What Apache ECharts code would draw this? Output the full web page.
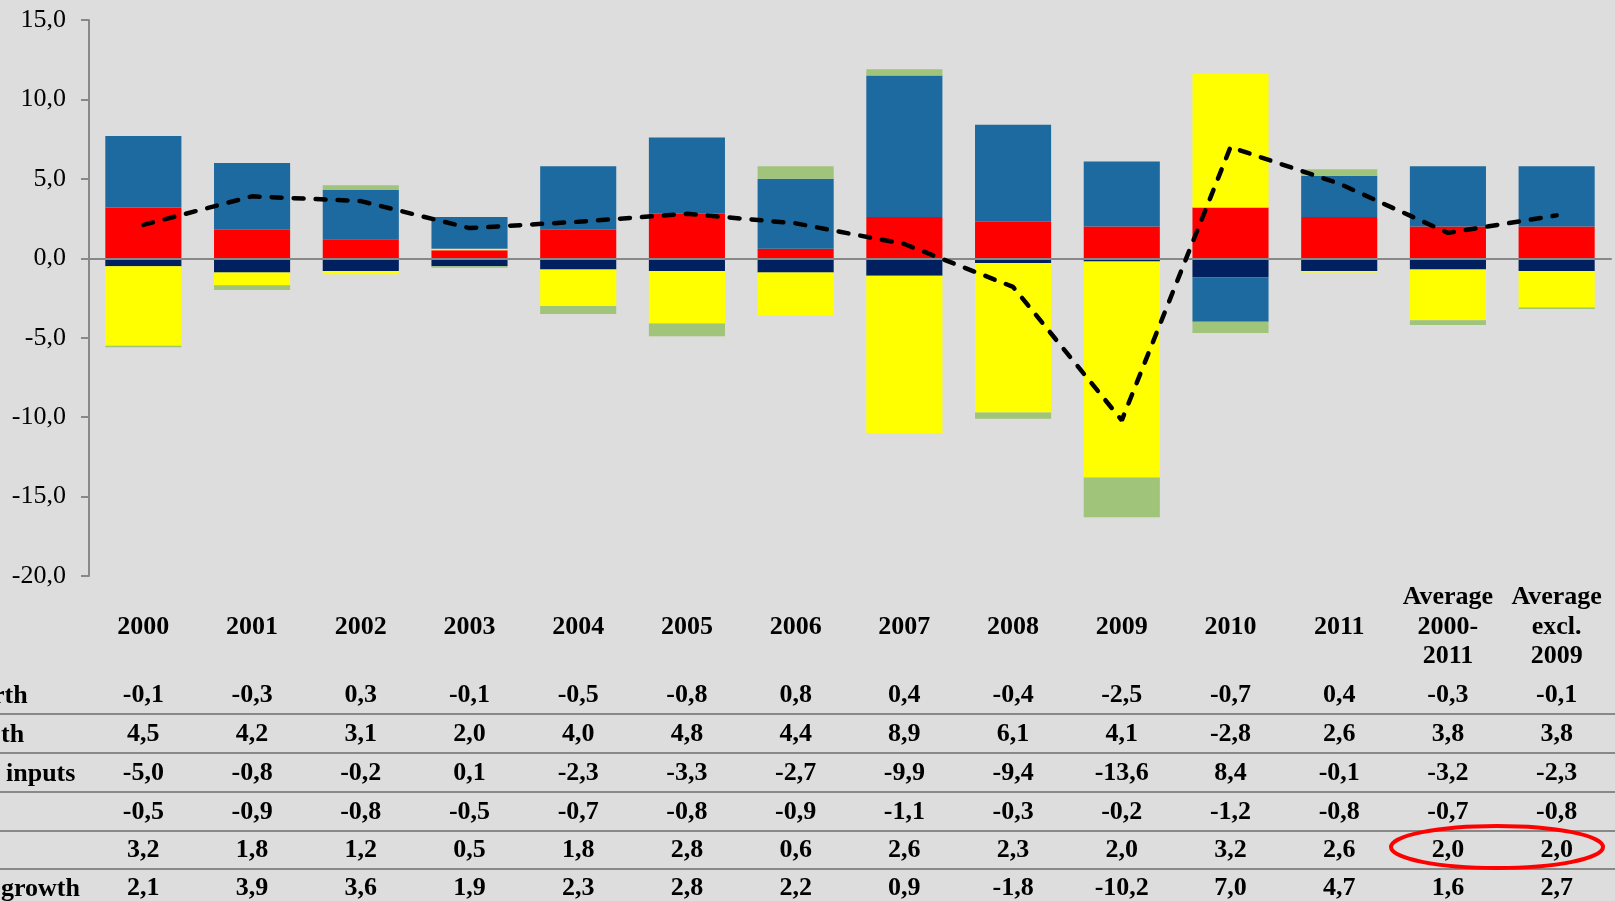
<!DOCTYPE html>
<html>
<head>
<meta charset="utf-8">
<script src="https://cdn.jsdelivr.net/npm/echarts@6/dist/echarts.min.js"></script>
<style>
  html, body { margin: 0; padding: 0; background: #DDDDDD; }
  #main { width: 1615px; height: 901px; }
</style>
</head>
<body>
<div id="main"></div>
<script>
// categories (x)
var categories = ['2000', '2001', '2002', '2003', '2004', '2005', '2006', '2007', '2008', '2009', '2010', '2011',
    'Average\n2000-\n2011', 'Average\nexcl.\n2009'];

// table rows, top to bottom
var greenRow  = [-0.1, -0.3, 0.3, -0.1, -0.5, -0.8, 0.8, 0.4, -0.4, -2.5, -0.7, 0.4, -0.3, -0.1];
var blueRow   = [4.5, 4.2, 3.1, 2.0, 4.0, 4.8, 4.4, 8.9, 6.1, 4.1, -2.8, 2.6, 3.8, 3.8];
var yellowRow = [-5.0, -0.8, -0.2, 0.1, -2.3, -3.3, -2.7, -9.9, -9.4, -13.6, 8.4, -0.1, -3.2, -2.3];
var navyRow   = [-0.5, -0.9, -0.8, -0.5, -0.7, -0.8, -0.9, -1.1, -0.3, -0.2, -1.2, -0.8, -0.7, -0.8];
var redRow    = [3.2, 1.8, 1.2, 0.5, 1.8, 2.8, 0.6, 2.6, 2.3, 2.0, 3.2, 2.6, 2.0, 2.0];
var growthRow = [2.1, 3.9, 3.6, 1.9, 2.3, 2.8, 2.2, 0.9, -1.8, -10.2, 7.0, 4.7, 1.6, 2.7];

// clipped row captions on the left
var rowLabels = ['rth', 'th', 'inputs', '', '', 'growth'];

var yTicks = { min: -20, max: 15, step: 5 };

var FONT = '"Liberation Serif", "Times New Roman", serif';
var chart = echarts.init(document.getElementById('main'));

function fmt(v) { return v.toFixed(1).replace('.', ','); }

var tableRows = [greenRow, blueRow, yellowRow, navyRow, redRow, growthRow];
var rowCenters = [696, 735, 774, 813, 851, 889];   // label centre y (px)
var gridBottomY = 577;

var xAxes = [{
    // axis used by the series: zero line only
    type: 'category', data: categories, gridIndex: 0, z: 5,
    axisLine: { onZero: true, lineStyle: { color: '#888888', width: 2 } },
    axisTick: { show: false },
    axisLabel: { show: false }
}, {
    // year labels
    type: 'category', data: categories, position: 'bottom',
    axisLine: { show: false, onZero: false }, axisTick: { show: false },
    axisLabel: {
        interval: 0, margin: 628 - gridBottomY, verticalAlign: 'middle',
        fontFamily: FONT, fontWeight: 'bold', fontSize: 26, color: '#000', lineHeight: 29.5
    }
}];
tableRows.forEach(function (row, i) {
    xAxes.push({
        type: 'category', data: row.map(fmt), position: 'bottom',
        axisLine: { show: false, onZero: false }, axisTick: { show: false },
        axisLabel: {
            interval: 0, margin: rowCenters[i] - gridBottomY, verticalAlign: 'middle',
            fontFamily: FONT, fontWeight: 'bold', fontSize: 26, color: '#000'
        }
    });
});

var graphics = [];
[714, 753, 792, 831, 869].forEach(function (y) {
    graphics.push({ type: 'line', shape: { x1: 0, y1: y, x2: 1615, y2: y },
        style: { stroke: '#888888', lineWidth: 2 }, z: 1 });
});
var labelX = [-7, 1, 6, 1, 1, 1];
rowLabels.forEach(function (t, i) {
    if (!t) return;
    graphics.push({ type: 'text', x: labelX[i], y: rowCenters[i], z: 2,
        style: { text: t, font: 'bold 26px ' + FONT, fill: '#000', verticalAlign: 'middle' } });
});
// red ellipse around the two averages
graphics.push({ type: 'ellipse', shape: { cx: 1497, cy: 847, rx: 106, ry: 21 },
    style: { fill: 'none', stroke: '#FF0000', lineWidth: 4 }, z: 10 });

function barSeries(name, data, color) {
    return { name: name, type: 'bar', stack: 'total', data: data, barWidth: '70%',
        xAxisIndex: 0, itemStyle: { color: color }, z: 2 };
}

chart.setOption({
    backgroundColor: '#DDDDDD',
    animation: false,
    grid: { left: 89, right: 4, top: 20, bottom: 901 - gridBottomY, containLabel: false },
    xAxis: xAxes,
    yAxis: {
        type: 'value', min: yTicks.min, max: yTicks.max, interval: yTicks.step,
        axisLine: { show: true, lineStyle: { color: '#888888', width: 2 } },
        axisTick: { show: true, length: 8, lineStyle: { color: '#888888', width: 2 } },
        splitLine: { show: false },
        axisLabel: { formatter: fmt, fontFamily: FONT, fontSize: 26, color: '#000', margin: 23 }
    },
    series: [
        barSeries('red', redRow, '#FF0000'),
        barSeries('navy', navyRow, '#002060'),
        barSeries('yellow', yellowRow, '#FFFF00'),
        barSeries('blue', blueRow, '#1C6AA0'),
        barSeries('green', greenRow, '#9FC47A'),
        { name: 'growth', type: 'line', data: growthRow, xAxisIndex: 0, z: 10,
          symbol: 'none',
          lineStyle: { color: '#000', width: 4.5, type: [10, 12], cap: 'round' } }
    ],
    graphic: graphics
});
</script>
</body>
</html>
